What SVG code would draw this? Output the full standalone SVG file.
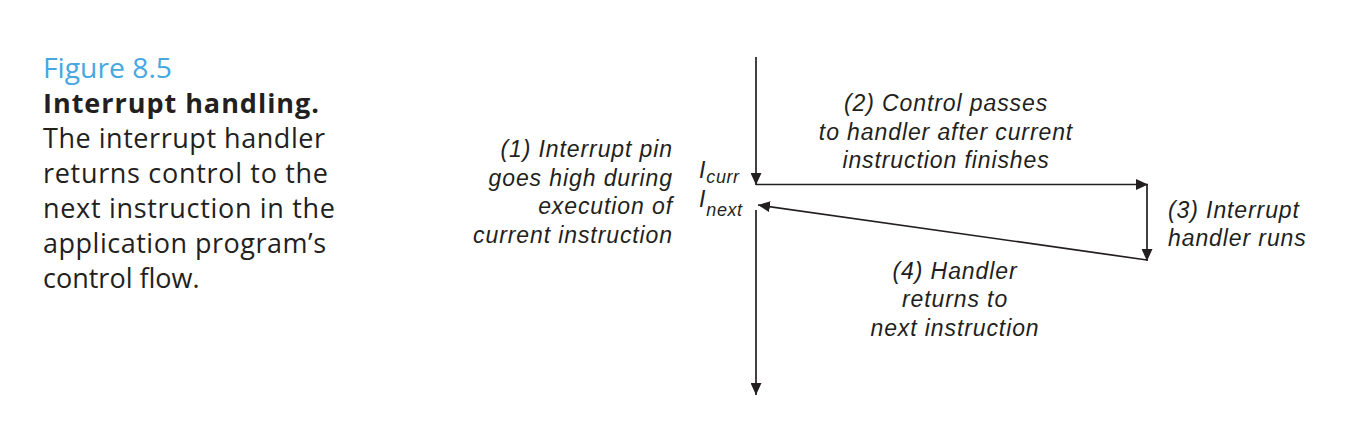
<svg xmlns="http://www.w3.org/2000/svg" width="1352" height="422" viewBox="0 0 1352 422">
<style>
.cap{font-family:"Open Sans","Noto Sans",sans-serif;font-size:27px;fill:#231f20}
.fig{fill:#47a7e0}
.b{font-weight:bold}
.lbl{font-family:"Liberation Sans",Arial,sans-serif;font-style:italic;font-size:23px;fill:#231f20;letter-spacing:0.9px}
.sub{font-size:18px;letter-spacing:0.6px}
.ln{stroke:#231f20;stroke-width:1.7;fill:none}
</style>
<defs>
<marker id="ah" markerUnits="userSpaceOnUse" markerWidth="12" markerHeight="11" refX="12" refY="5.5" orient="auto">
<path d="M0,0 L12,5.5 L0,11 Z" fill="#231f20"/>
</marker>
</defs>
<g id="caption" class="cap">
<text x="43" y="78" class="fig" textLength="129" lengthAdjust="spacingAndGlyphs">Figure 8.5</text>
<text x="43" y="113" class="b" textLength="276" lengthAdjust="spacing">Interrupt handling.</text>
<text x="43" y="148" textLength="282" lengthAdjust="spacing">The interrupt handler</text>
<text x="43" y="183" textLength="285" lengthAdjust="spacing">returns control to the</text>
<text x="43" y="218" textLength="292" lengthAdjust="spacing">next instruction in the</text>
<text x="43" y="253" textLength="283" lengthAdjust="spacing">application program’s</text>
<text x="43" y="288">control flow.</text>
</g>
<g id="connectors">
<line class="ln" x1="756" y1="57" x2="756" y2="185" marker-end="url(#ah)"/>
<line class="ln" x1="756" y1="184.5" x2="1148" y2="184.5" marker-end="url(#ah)"/>
<line class="ln" x1="1147" y1="184.5" x2="1147" y2="261" marker-end="url(#ah)"/>
<line class="ln" x1="1147" y1="260" x2="758" y2="205" marker-end="url(#ah)"/>
<line class="ln" x1="756" y1="210" x2="756" y2="395" marker-end="url(#ah)"/>
</g>
<g id="label1" class="lbl" text-anchor="end">
<text x="673" y="157">(1) Interrupt pin</text>
<text x="673" y="186">goes high during</text>
<text x="673" y="214">execution of</text>
<text x="673" y="243">current instruction</text>
</g>
<g id="icurr" class="lbl">
<text x="699" y="178">I<tspan class="sub" dy="5">curr</tspan></text>
</g>
<g id="inext" class="lbl">
<text x="699" y="207">I<tspan class="sub" dy="9">next</tspan></text>
</g>
<g id="label2" class="lbl" text-anchor="middle">
<text x="946" y="111">(2) Control passes</text>
<text x="946" y="140">to handler after current</text>
<text x="946" y="168">instruction finishes</text>
</g>
<g id="label3" class="lbl">
<text x="1168" y="218">(3) Interrupt</text>
<text x="1168" y="246">handler runs</text>
</g>
<g id="label4" class="lbl" text-anchor="middle">
<text x="955" y="279">(4) Handler</text>
<text x="955" y="307">returns to</text>
<text x="955" y="336">next instruction</text>
</g>
</svg>
